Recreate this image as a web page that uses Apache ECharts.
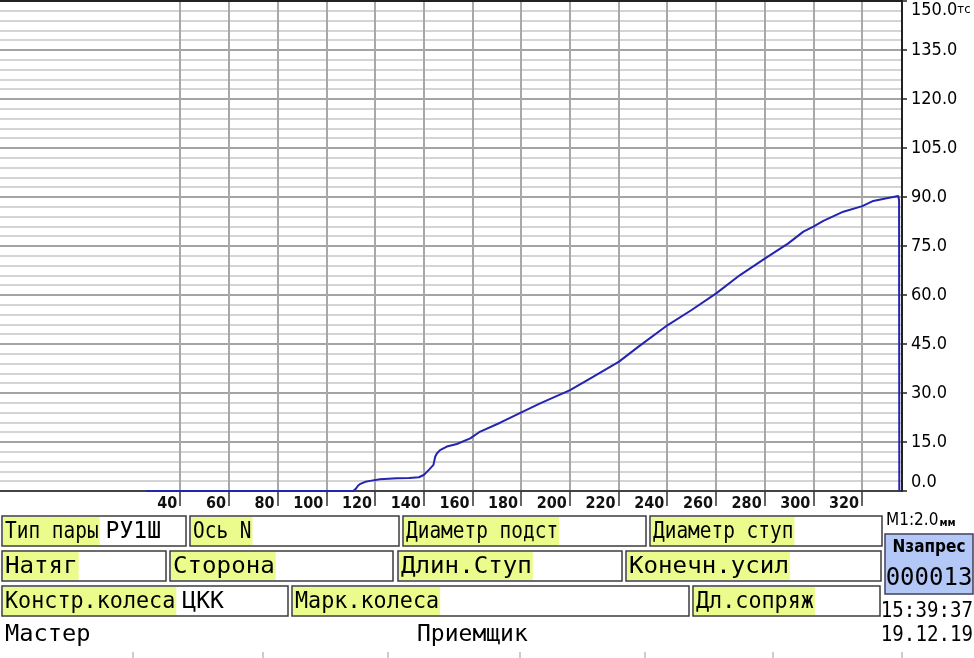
<!DOCTYPE html>
<html>
<head>
<meta charset="utf-8">
<script src="https://cdn.jsdelivr.net/npm/echarts@6/dist/echarts.min.js"></script>
<style>
  html, body { margin: 0; padding: 0; background: #fff; }
  #main { width: 974px; height: 658px; }
</style>
</head>
<body>
<div id="main"></div>
<script>
// перемещение, мм (по шкале М1:2.0) и усилие запрессовки, тс
const strokeMm = [26, 111, 112, 113, 114, 116, 118, 122, 129, 134, 138, 140, 142, 144, 144.7, 145.4, 146.7, 149.5, 153.6, 159.1,
  163.2, 171.4, 179.9, 187.8, 200.1, 209.7, 220.2, 228.2, 240.2, 250, 260.1, 269.9, 280.2, 289.7, 295.9, 300,
  304.1, 312.3, 320.1, 324.6, 330.1, 334.9, 335.2, 335.3]
const forceTs = [0, 0, 0.6, 1.6, 2.2, 2.8, 3.1, 3.6, 3.9, 4.0, 4.2, 4.9, 6.4, 8.0, 10.5, 11.5, 12.5, 13.6, 14.4, 16.1,
  18.2, 20.9, 24.0, 26.8, 30.9, 35.0, 39.6, 44.2, 50.8, 55.4, 60.5, 66.1, 71.2, 75.8, 79.4, 80.9,
  82.7, 85.5, 87.2, 88.8, 89.6, 90.3, 89.0, 0]
const xTicks = [40, 60, 80, 100, 120, 140, 160, 180, 200, 220, 240, 260, 280, 300, 320]

const row1Labels = ['Тип пары', 'Ось N', 'Диаметр подст', 'Диаметр ступ']
const row1Values = ['РУ1Ш', '', '', '']
const row2Labels = ['Натяг', 'Сторона', 'Длин.Ступ', 'Конечн.усил']
const row2Values = ['', '', '', '']
const row3Labels = ['Констр.колеса', 'Марк.колеса', 'Дл.сопряж']
const row3Values = ['ЦКК', '', '']
const signers = ['Мастер', 'Приемщик']
const scaleText = ['M1:2.0', 'мм']
const pressTitle = 'Nзапрес'
const pressNo = '000013'
const stampTime = '15:39:37'
const stampDate = '19.12.19'

const MONO = "'DejaVu Sans Mono', monospace"
const COND = "'DejaVu Sans Condensed', 'DejaVu Sans', sans-serif"
const YELLOW = '#ecfc8c'
const BORDER = '#3c3c3c'

const measure = document.createElement('canvas').getContext('2d')
function textW (t, font) {
  measure.font = font
  return measure.measureText(t).width
}

// раскладка таблицы под графиком
const rows = [
  { y: 516, h: 30, sx: 0.845, boxes: [[2, 186], [190, 399], [403, 646], [650, 882]], labels: row1Labels, values: row1Values },
  { y: 551, h: 30, sx: 1.05, boxes: [[2, 166], [170, 393], [398, 622], [626, 881]], labels: row2Labels, values: row2Values },
  { y: 586, h: 30, sx: 0.946, boxes: [[2, 288], [292, 689], [693, 880]], labels: row3Labels, values: row3Values }
]

const font23 = '23px ' + MONO
let graphics = []
rows.forEach(function (row) {
  row.boxes.forEach(function (b, i) {
    let w = textW(row.labels[i], font23) * row.sx
    graphics.push({
      type: 'rect',
      shape: { x: b[0], y: row.y, width: b[1] - b[0], height: row.h },
      style: { fill: '#fff', stroke: BORDER, lineWidth: 1.5 }
    })
    graphics.push({
      type: 'rect',
      shape: { x: b[0] + 1, y: row.y + 1, width: w + 3, height: row.h - 2 },
      style: { fill: YELLOW }
    })
    graphics.push({
      type: 'text',
      x: b[0] + 3,
      y: row.y + row.h / 2 + 1,
      scaleX: row.sx,
      style: { text: row.labels[i], font: font23, fill: '#000', textVerticalAlign: 'middle', verticalAlign: 'middle' }
    })
    if (row.values[i]) {
      graphics.push({
        type: 'text',
        x: b[0] + w + 10,
        y: row.y + row.h / 2 + 1,
        style: { text: row.values[i], font: '23px ' + MONO, fill: '#000', textVerticalAlign: 'middle', verticalAlign: 'middle' }
      })
    }
  })
})

// подписи
graphics.push({
  type: 'text', x: 5, y: 635, scaleX: 1.03,
  style: { text: signers[0], font: font23, fill: '#000', textVerticalAlign: 'middle', verticalAlign: 'middle' }
})
graphics.push({
  type: 'text', x: 417, y: 635,
  style: { text: signers[1], font: font23, fill: '#000', textVerticalAlign: 'middle', verticalAlign: 'middle' }
})

// масштаб, номер запрессовки, время
graphics.push({
  type: 'text', x: 886, y: 521,
  style: { text: scaleText[0], font: '17px ' + COND, fill: '#000', textVerticalAlign: 'middle', verticalAlign: 'middle' }
})
graphics.push({
  type: 'text', x: 886 + textW(scaleText[0], '17px ' + COND) + 1, y: 523,
  style: { text: scaleText[1], font: 'bold 11px ' + COND, fill: '#000', textVerticalAlign: 'middle', verticalAlign: 'middle' }
})
graphics.push({
  type: 'rect',
  shape: { x: 885, y: 534, width: 88, height: 60 },
  style: { fill: '#b4c8f8', stroke: '#404058', lineWidth: 1.5 }
})
graphics.push({
  type: 'text', x: 929, y: 548,
  style: { text: pressTitle, font: 'bold 17px ' + COND, fill: '#000', textAlign: 'center', align: 'center', textVerticalAlign: 'middle', verticalAlign: 'middle' }
})
graphics.push({
  type: 'text', x: 929, y: 579,
  style: { text: pressNo, font: '24px ' + MONO, fill: '#000', textAlign: 'center', align: 'center', textVerticalAlign: 'middle', verticalAlign: 'middle' }
})
graphics.push({
  type: 'text', x: 973, y: 611, scaleX: 0.87,
  style: { text: stampTime, font: '22px ' + MONO, fill: '#000', textAlign: 'right', align: 'right', textVerticalAlign: 'middle', verticalAlign: 'middle' }
})
graphics.push({
  type: 'text', x: 973, y: 635, scaleX: 0.87,
  style: { text: stampDate, font: '22px ' + MONO, fill: '#000', textAlign: 'right', align: 'right', textVerticalAlign: 'middle', verticalAlign: 'middle' }
})
// нижние засечки строки подписей
;[133, 263, 388, 520, 645, 773, 902].forEach(function (x) {
  graphics.push({
    type: 'line',
    shape: { x1: x, y1: 652, x2: x, y2: 658 },
    style: { stroke: '#999', lineWidth: 1 }
  })
})

const chart = echarts.init(document.getElementById('main'), null, { renderer: 'canvas' })
const option = {
  animation: false,
  backgroundColor: '#fff',
  grid: { left: 0, right: 72, top: 1, bottom: 167 },
  xAxis: [
    {
      type: 'value',
      min: -34,
      max: 336.4,
      position: 'bottom',
      axisLine: { show: true, onZero: false, lineStyle: { color: '#222', width: 1.5 } },
      axisTick: { show: true, customValues: xTicks, length: 15, lineStyle: { color: '#333', width: 1.5 } },
      axisLabel: {
        customValues: xTicks,
        align: 'right',
        verticalAlign: 'top',
        margin: 5,
        padding: [0, 3, 0, 0],
        fontFamily: COND,
        fontSize: 16,
        fontWeight: 'bold',
        color: '#111'
      },
      splitLine: { show: true, lineStyle: { color: '#a8a8a8', width: 2 } }
    },
    {
      type: 'value',
      min: -34,
      max: 336.4,
      position: 'top',
      axisLine: { show: true, onZero: false, lineStyle: { color: '#222', width: 2 } },
      axisTick: { show: false },
      axisLabel: { show: false },
      splitLine: { show: false }
    }
  ],
  yAxis: {
    type: 'value',
    position: 'right',
    min: 0,
    max: 150,
    interval: 15,
    axisLine: { show: true, onZero: false, lineStyle: { color: '#222', width: 2 } },
    axisTick: { show: true, length: 5, lineStyle: { color: '#222', width: 1.5 } },
    minorTick: { show: false, splitNumber: 5 },
    axisLabel: {
      margin: 9,
      fontFamily: COND,
      fontSize: 18,
      color: '#000',
      verticalAlignMinLabel: 'bottom',
      verticalAlignMaxLabel: 'top',
      formatter: function (v) {
        return v === 150 ? '150.0{u|тс}' : v.toFixed(1)
      },
      rich: { u: { fontFamily: COND, fontSize: 13, color: '#000' } }
    },
    splitLine: { show: true, lineStyle: { color: '#a4a4a4', width: 2 } },
    minorSplitLine: { show: true, lineStyle: { color: '#d4d4d4', width: 2 } }
  },
  series: [
    {
      type: 'line',
      xAxisIndex: 0,
      data: strokeMm.map(function (x, i) { return [x, forceTs[i]] }),
      showSymbol: false,
      lineStyle: { color: '#2424b0', width: 2 }
    }
  ],
  graphic: graphics
}
chart.setOption(option)
</script>
</body>
</html>
